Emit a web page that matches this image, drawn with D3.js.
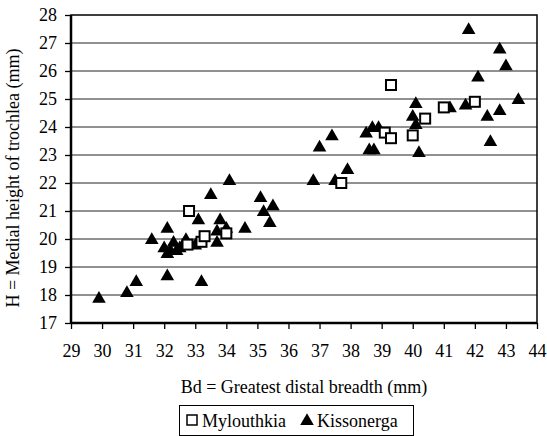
<!DOCTYPE html>
<html><head><meta charset="utf-8">
<script src="https://cdn.jsdelivr.net/npm/d3@7"></script>
<style>body{margin:0;background:#fff}svg{display:block}svg text{font-family:"Times New Roman","Liberation Serif","DejaVu Serif",serif !important;fill:#000}</style>
</head><body>
<svg id="c" width="547" height="436"></svg>
<script>
const xTicks = [29,30,31,32,33,34,35,36,37,38,39,40,41,42,43,44];
const yTicks = [17,18,19,20,21,22,23,24,25,26,27,28];
const seriesNames = ["Mylouthkia","Kissonerga"];
const mylouthkiaBd = [32.8,32.75,33.2,33.3,34.0,37.7,39.3,39.1,39.3,40.0,40.4,41.0,42.0];
const mylouthkiaH  = [21.0,19.8,19.9,20.1,20.2,22.0,25.5,23.8,23.6,23.7,24.3,24.7,24.9];
const kissonergaBd = [29.9,30.8,31.1,31.6,32.1,32.1,32.0,32.1,32.2,32.3,32.4,32.5,32.7,33.0,33.1,33.2,33.5,33.7,33.7,33.8,34.0,34.1,34.6,35.1,35.2,35.4,35.5,36.8,37.0,37.4,37.5,37.9,38.5,38.6,38.75,38.7,38.9,40.0,40.1,40.1,40.2,41.2,41.7,41.8,42.1,42.4,42.5,42.8,42.8,43.0,43.4];
const kissonergaH  = [17.9,18.1,18.5,20.0,20.4,18.7,19.7,19.5,19.6,19.9,19.6,19.7,20.0,19.8,20.7,18.5,21.6,20.3,19.9,20.7,20.4,22.1,20.4,21.5,21.0,20.6,21.2,22.1,23.3,23.7,22.1,22.5,23.8,23.2,23.2,24.0,24.0,24.4,24.85,24.1,23.1,24.7,24.8,27.5,25.8,24.4,23.5,24.6,26.8,26.2,25.0];
const xTitle = "Bd = Greatest distal breadth (mm)";
const yTitle = "H = Medial height of trochlea (mm)";

const svg = d3.select("#c");
const L=71, R=537, T=15, B=323;
const x = d3.scaleLinear().domain([29,44]).range([L,R]);
const y = d3.scaleLinear().domain([17,28]).range([B,T]);
const FS = 18;
const FF = '"Times New Roman","Liberation Serif","DejaVu Serif",serif';

// gridlines
svg.append("g").selectAll("line").data(yTicks.filter(d=>d>17&&d<28)).join("line")
  .attr("x1",L).attr("x2",R).attr("y1",d=>y(d)).attr("y2",d=>y(d))
  .attr("stroke","#222").attr("stroke-width",1);

// axes
const xa = svg.append("g").attr("transform",`translate(0,${B})`)
  .call(d3.axisBottom(x).tickValues(xTicks).tickSize(6).tickPadding(15).tickFormat(d3.format("d")));
const ya = svg.append("g").attr("transform",`translate(${L},0)`)
  .call(d3.axisLeft(y).tickValues(yTicks).tickSize(6).tickPadding(8).tickFormat(d3.format("d")));
[xa,ya].forEach(a=>{
  a.attr("font-family",FF).attr("font-size",FS);
  a.select(".domain").remove();
  a.selectAll("line").attr("stroke","#000").attr("stroke-width",1.3);
  a.selectAll("text").attr("fill","#000");
});

// frame
svg.append("rect").attr("x",L).attr("y",T).attr("width",R-L).attr("height",B-T)
  .attr("fill","none").attr("stroke","#000").attr("stroke-width",1.5);
svg.append("line").attr("x1",L).attr("x2",L).attr("y1",T).attr("y2",B).attr("stroke","#000").attr("stroke-width",2.5);
svg.append("line").attr("x1",L).attr("x2",R).attr("y1",B).attr("y2",B).attr("stroke","#000").attr("stroke-width",2.5);

// triangles (Kissonerga)
const tri = d3.symbol().type(d3.symbolTriangle).size(80);
svg.append("g").selectAll("path").data(kissonergaBd.map((v,i)=>[v,kissonergaH[i]])).join("path")
  .attr("d",tri).attr("transform",d=>`translate(${x(d[0])},${y(d[1])+1})`).attr("fill","#000");

// squares (Mylouthkia)
const s = 10;
svg.append("g").selectAll("rect").data(mylouthkiaBd.map((v,i)=>[v,mylouthkiaH[i]])).join("rect")
  .attr("x",d=>x(d[0])-s/2).attr("y",d=>y(d[1])-s/2).attr("width",s).attr("height",s)
  .attr("fill","#fff").attr("stroke","#000").attr("stroke-width",2);

// titles
svg.append("text").attr("x",(L+R)/2).attr("y",393).attr("text-anchor","middle").attr("font-family",FF).attr("font-size",FS).text(xTitle);
svg.append("text").attr("transform",`translate(19,${178}) rotate(-90)`).attr("text-anchor","middle").attr("font-family",FF).attr("font-size",FS).text(yTitle);

// legend
const lg = svg.append("g").attr("font-family",FF).attr("font-size",FS);
lg.append("rect").attr("x",179.5).attr("y",405.5).attr("width",234).attr("height",30).attr("fill","#fff").attr("stroke","#000").attr("stroke-width",1);
lg.append("rect").attr("x",187).attr("y",415).attr("width",10).attr("height",10).attr("fill","#fff").attr("stroke","#000").attr("stroke-width",1.5);
lg.append("text").attr("x",202).attr("y",427).text(seriesNames[0]);
lg.append("path").attr("d",tri).attr("transform","translate(307,421)").attr("fill","#000");
lg.append("text").attr("x",317).attr("y",427).text(seriesNames[1]);
</script>
</body></html>
